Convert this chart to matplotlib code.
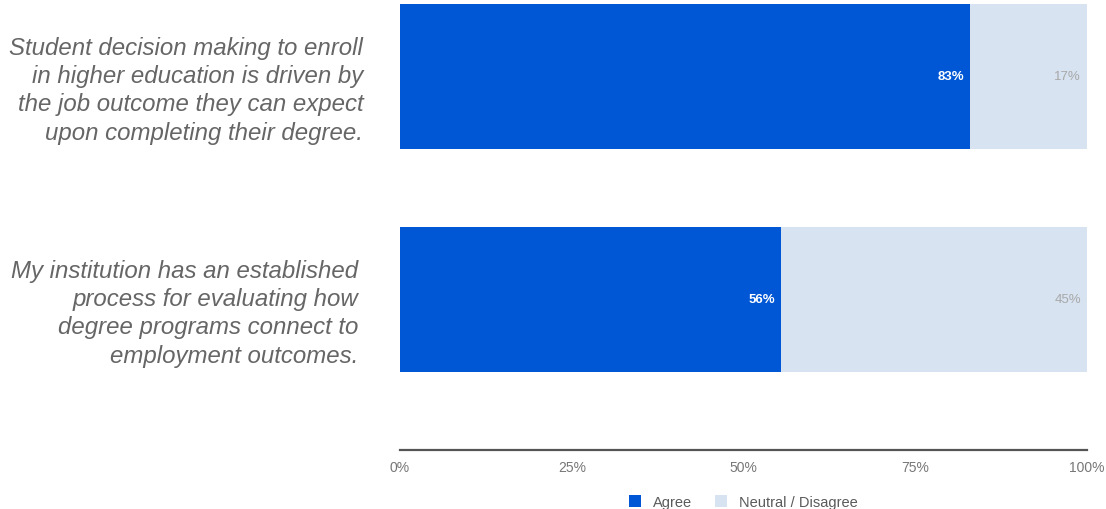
import matplotlib.pyplot as plt
from matplotlib.patches import Patch

plt.rcParams['font.family'] = ['Liberation Sans', 'DejaVu Sans']

# Survey statements and responses (percent)
statements = [
    "Student decision making to enroll\nin higher education is driven by\nthe job outcome they can expect\nupon completing their degree.",
    "My institution has an established\nprocess for evaluating how\ndegree programs connect to\nemployment outcomes.",
]
agree = [83, 56]
neutral = [17, 45]
series_names = ['Agree', 'Neutral / Disagree']
ticks = [0, 25, 50, 75, 100]
tick_labels = ['0%', '25%', '50%', '75%', '100%']

blue = '#0057d5'
light = '#d7e3f1'

# stacked bars are normalised to 100%
totals = [a + n for a, n in zip(agree, neutral)]
agree_pct = [100 * a / t for a, t in zip(agree, totals)]
neutral_pct = [100 * n / t for n, t in zip(neutral, totals)]

fig = plt.figure(figsize=(11.06, 5.10), dpi=100)
ax = fig.add_axes([0.3617, 0.1157, 0.6212, 0.8843])

ypos = list(range(len(statements)))
ax.barh(ypos, agree_pct, height=0.65, color=blue)
ax.barh(ypos, neutral_pct, left=agree_pct, height=0.65, color=light)

ax.set_xlim(0, 100)
ax.set_ylim(1.675, -0.3475)

# value labels at the right end of each segment
for y, a, n, ap in zip(ypos, agree, neutral, agree_pct):
    ax.annotate(f'{a}%', xy=(ap, y), xytext=(-4.5, 0), textcoords='offset points',
                ha='right', va='center', color='white', fontsize=9.5, fontweight='bold')
    ax.annotate(f'{n}%', xy=(100, y), xytext=(-4.5, 0), textcoords='offset points',
                ha='right', va='center', color='#a8a8a8', fontsize=9.5)

# statement text to the left of the bars
label_dx = [-26.5, -30]
for y, s, dx in zip(ypos, statements, label_dx):
    ax.annotate(s, xy=(0, y), xycoords=('axes fraction', 'data'),
                xytext=(dx, -9.5), textcoords='offset points',
                ha='right', va='center', style='italic', fontsize=17.3,
                color='#666666', linespacing=1.3)

ax.set_yticks([])
ax.set_xticks(ticks)
ax.set_xticklabels(tick_labels)
ax.tick_params(axis='x', length=0, pad=7, labelsize=10, labelcolor='#777777')
for side in ['top', 'right', 'left']:
    ax.spines[side].set_visible(False)
ax.spines['bottom'].set_color('#555555')
ax.spines['bottom'].set_linewidth(1.6)

handles = [Patch(facecolor=blue), Patch(facecolor=light)]
fig.legend(handles, series_names, loc='center', bbox_to_anchor=(0.672, 0.014),
           ncol=2, frameon=False, fontsize=10.5, labelcolor='#5a5a5a',
           handlelength=0.85, handleheight=0.85, handletextpad=0.8, columnspacing=1.6)

fig.savefig('out.png', dpi=100)
